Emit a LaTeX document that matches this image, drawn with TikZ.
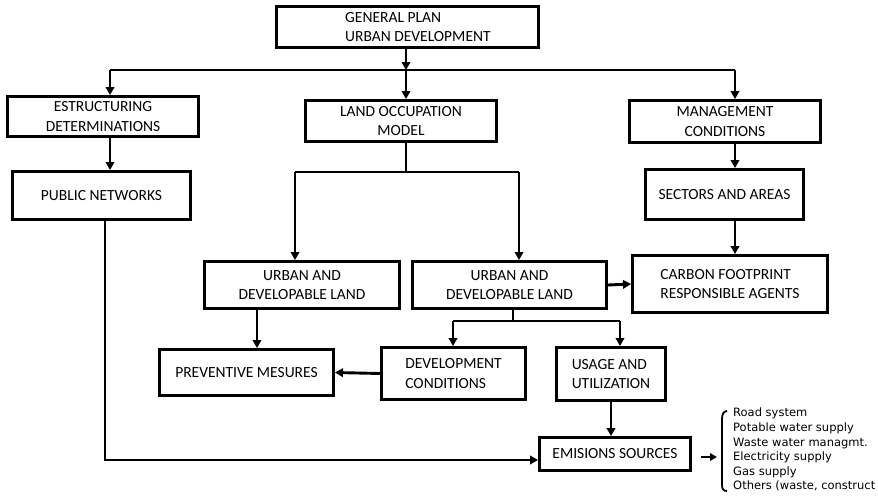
\documentclass[tikz,border=0pt]{standalone}
\usepackage{fontspec}
\setmainfont{Carlito}
\newfontfamily\listfont{DejaVu Sans}
\usetikzlibrary{arrows.meta}

\tikzset{
  box/.style={draw, line width=2.9pt, inner sep=0pt, align=center,
              font=\fontsize{15.5}{19.5}\selectfont},
  lbl/.style={inner sep=0pt, align=left, font=\fontsize{15.5}{19.5}\selectfont},
  link/.style={line width=2.9pt},
  arr/.style={link, -{Triangle[length=8pt,width=8.5pt]}},
  items/.style={inner sep=0pt, align=left, font=\listfont\fontsize{11.5}{14.6}\selectfont},
}

\begin{document}
\begin{tikzpicture}[x=1pt, y=-1pt]
  \fill[white] (0,0) rectangle (878,498);
  \useasboundingbox (0,0) rectangle (878,498);

  % boxes
  \node[box, minimum width=262, minimum height=41] (gp) at (407.5,27) {};
  \node[lbl, anchor=west] (gptext) at (345,27) {GENERAL PLAN\\URBAN DEVELOPMENT};

  \node[box, minimum width=191, minimum height=40] (est) at (103,116.5) {ESTRUCTURING\\DETERMINATIONS};
  \node[box, minimum width=178, minimum height=48] (pn) at (101.5,195.5) {PUBLIC NETWORKS};

  \node[box, minimum width=191, minimum height=41] (lom) at (401,121) {LAND OCCUPATION\\MODEL};

  \node[box, minimum width=191, minimum height=42] (mc) at (725,121.5) {MANAGEMENT\\CONDITIONS};
  \node[box, minimum width=158, minimum height=50] (sa) at (724.5,194.5) {SECTORS AND AREAS};

  \node[box, minimum width=195, minimum height=47] (ud1) at (302,285) {URBAN AND\\DEVELOPABLE LAND};
  \node[box, minimum width=194, minimum height=47] (ud2) at (509.5,285) {URBAN AND\\DEVELOPABLE LAND};
  \node[box, minimum width=195, minimum height=57, align=left] (cf) at (730,284) {CARBON FOOTPRINT\\RESPONSIBLE AGENTS};

  \node[box, minimum width=174, minimum height=46] (pm) at (246.5,372.5) {PREVENTIVE MESURES};
  \node[box, minimum width=144, minimum height=52, align=left] (dc) at (453.5,373.5) {DEVELOPMENT\\CONDITIONS};
  \node[box, minimum width=109, minimum height=53, align=left] (uu) at (611,374) {USAGE AND\\UTILIZATION};

  \node[box, minimum width=151, minimum height=33] (es) at (615,454) {EMISIONS SOURCES};

  % list of emission sources
  \node[items, anchor=north west] (list) at (733,408)
    {Road system\\Potable water supply\\Waste water managmt.\\Electricity supply\\Gas supply\\Others (waste, construct};

  % junction points
  \coordinate (j1) at (406,70);
  \coordinate (hl) at (110,70);
  \coordinate (hr) at (735,70);
  \coordinate (j2) at (406,172);
  \coordinate (sl) at (295,172);
  \coordinate (sr) at (519,172);
  \coordinate (j3) at (513,321);
  \coordinate (dl) at (453,321);
  \coordinate (dr) at (620,321);
  \coordinate (corner) at (105,460);
  \coordinate (a1) at (701,457);
  \coordinate (a2) at (717,457);

  % top level
  \draw[arr] (gp.south -| j1) -- (j1);
  \draw[link] (hl) -- (hr);
  \draw[arr] (hl) -- (hl |- est.north);
  \draw[arr] (j1) -- (j1 |- lom.north);
  \draw[arr] (hr) -- (hr |- mc.north);

  % left column
  \draw[arr] (hl |- est.south) -- (hl |- pn.north);
  \draw[arr] (pn.south -| corner) -- (corner) -- (corner -| es.west);

  % right column
  \draw[arr] (hr |- mc.south) -- (hr |- sa.north);
  \draw[arr] (hr |- sa.south) -- (hr |- cf.north);

  % land occupation model split
  \draw[link] (lom.south -| j2) -- (j2);
  \draw[link] (sl) -- (sr);
  \draw[arr] (sl) -- (sl |- ud1.north);
  \draw[arr] (sr) -- (sr |- ud2.north);

  \draw[arr] (ud2.east) -- (cf.west);
  \draw[arr] ([xshift=10.5pt]pm.north |- ud1.south) -- ([xshift=10.5pt]pm.north);

  % urban land split
  \draw[link] (ud2.south -| j3) -- (j3);
  \draw[link] (dl) -- (dr);
  \draw[arr] (dl) -- (dl |- dc.north);
  \draw[arr] (dr) -- (dr |- uu.north);

  \draw[arr] (dc.west) -- (pm.east);
  \draw[arr] (uu.south) -- (uu.south |- es.north);

  % emission sources to list
  \draw[link, line width=2.2pt, -{Triangle[length=7pt,width=7.5pt]}] (a1) -- (a2);
  \draw[line width=1.8pt] (727,411) .. controls (723.5,411.5) and (722,414) .. (722,419)
    -- (722,485) .. controls (722,489) and (723.5,491) .. (727,491);
\end{tikzpicture}
\end{document}
